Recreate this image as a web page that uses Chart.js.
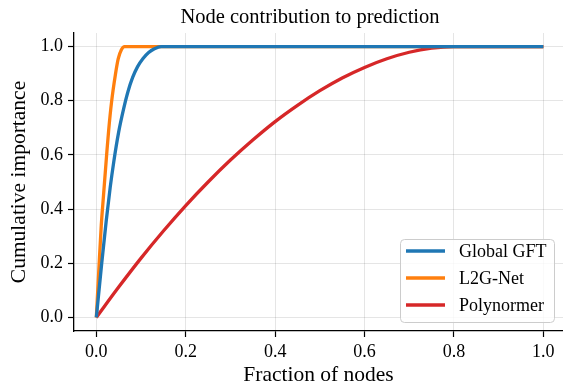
<!DOCTYPE html>
<html><head><meta charset="utf-8">
<script src="https://cdn.jsdelivr.net/npm/chart.js@4.4.1/dist/chart.umd.min.js"></script>
<style>html,body{margin:0;padding:0;background:#fff;overflow:hidden}</style>
</head><body>
<canvas id="c" width="563" height="385"></canvas>
<script>
const chartTitle = "Node contribution to prediction";
const xLabel = "Fraction of nodes";
const yLabel = "Cumulative importance";
const tickValues = [0, 0.2, 0.4, 0.6, 0.8, 1.0];
const seriesNames = ["Global GFT", "L2G-Net", "Polynormer"];
const seriesColors = ["#1f77b4", "#ff7f0e", "#d62728"];

const gftX = [0, 0.012, 0.022, 0.031, 0.039, 0.05, 0.061, 0.071, 0.081, 0.092, 0.104, 0.117, 0.13, 0.145, 1.0];
const gftY = [0, 0.2, 0.355, 0.48, 0.575, 0.685, 0.77, 0.835, 0.885, 0.925, 0.955, 0.978, 0.992, 1.0, 1.0];

const l2gX = [0, 0.006, 0.011, 0.016, 0.023, 0.0275, 0.034, 0.0425, 0.049, 0.056, 0.063, 1.0];
const l2gY = [0, 0.19, 0.34, 0.45, 0.6, 0.69, 0.795, 0.895, 0.955, 0.988, 1.0, 1.0];

const polyX = [0, 0.05, 0.1, 0.15, 0.2, 0.25, 0.3, 0.35, 0.4, 0.45, 0.5, 0.55, 0.6, 0.65, 0.7, 0.75, 0.8, 1.0];
const polyY = [0, 0.112, 0.219, 0.319, 0.413, 0.5, 0.581, 0.655, 0.723, 0.783, 0.837, 0.884, 0.923, 0.955, 0.979, 0.994, 1.0, 1.0];

const FONT = "'Liberation Serif', 'DejaVu Serif', serif";
const toPts = (xs, ys) => xs.map((x, i) => ({x: x, y: ys[i]}));
const seriesPts = [toPts(gftX, gftY), toPts(l2gX, l2gY), toPts(polyX, polyY)];

const overlay = {
  id: 'overlay',
  afterDraw(chart) {
    const ctx = chart.ctx, ca = chart.chartArea;
    ctx.save();
    ctx.fillStyle = '#000';
    ctx.font = "20.5px " + FONT;
    ctx.textAlign = 'center';
    ctx.textBaseline = 'alphabetic';
    ctx.fillText(chartTitle, 310, 23);
    const bw = 154, bh = 83;
    const bx = ca.right - 9 - bw, by = ca.bottom - 9 - bh;
    ctx.beginPath();
    ctx.roundRect(bx + 0.5, by + 0.5, bw, bh, 4);
    ctx.fillStyle = 'rgba(255,255,255,0.8)';
    ctx.fill();
    ctx.strokeStyle = '#cccccc';
    ctx.lineWidth = 1;
    ctx.stroke();
    ctx.font = "18px " + FONT;
    ctx.textAlign = 'left';
    ctx.textBaseline = 'middle';
    seriesNames.forEach((n, i) => {
      const y = by + 12 + i * 27;
      ctx.beginPath();
      ctx.moveTo(bx + 6, y);
      ctx.lineTo(bx + 45, y);
      ctx.strokeStyle = seriesColors[i];
      ctx.lineWidth = 3.4;
      ctx.stroke();
      ctx.fillStyle = '#000';
      ctx.fillText(n, bx + 59, y + 1);
    });
    ctx.restore();
  }
};

new Chart(document.getElementById('c'), {
  type: 'line',
  data: {
    datasets: seriesNames.map((n, i) => ({
      label: n,
      data: seriesPts[i],
      borderColor: seriesColors[i],
      backgroundColor: seriesColors[i],
      borderWidth: 3.3,
      pointRadius: 0,
      cubicInterpolationMode: 'monotone',
      borderJoinStyle: 'round',
      fill: false
    }))
  },
  options: {
    responsive: false,
    animation: false,
    devicePixelRatio: 1,
    layout: {padding: {top: 33, left: 0, right: 0, bottom: 0}},
    plugins: {legend: {display: false}, title: {display: false}, tooltip: {enabled: false}},
    scales: {
      x: {
        type: 'linear', min: -0.05, max: 1.044,
        afterFit(s) { s.height = 54; },
        afterBuildTicks(s) { s.ticks = tickValues.map(v => ({value: v})); },
        grid: {color: 'rgba(0,0,0,0.1)', lineWidth: 1, tickColor: '#000', tickLength: 6, tickWidth: 1.2},
        border: {color: '#000', width: 1.3},
        ticks: {color: '#000', font: {family: FONT, size: 18}, padding: 4, maxRotation: 0,
          callback: v => v.toFixed(1)},
        title: {display: true, text: xLabel, color: '#000', font: {family: FONT, size: 21.5, lineHeight: 1.2},
          padding: {top: 0, bottom: -3}}
      },
      y: {
        type: 'linear', min: -0.05, max: 1.05,
        afterFit(s) { s.width = 74; },
        afterBuildTicks(s) { s.ticks = tickValues.map(v => ({value: v})); },
        grid: {color: 'rgba(0,0,0,0.1)', lineWidth: 1, tickColor: '#000', tickLength: 6, tickWidth: 1.2},
        border: {color: '#000', width: 1.3},
        ticks: {color: '#000', font: {family: FONT, size: 18}, padding: 5,
          callback: v => v.toFixed(1)},
        title: {display: true, text: yLabel, color: '#000', font: {family: FONT, size: 21.5, lineHeight: 1.2},
          padding: {top: 6, bottom: 0}}
      }
    }
  },
  plugins: [overlay]
});
</script>
</body></html>
